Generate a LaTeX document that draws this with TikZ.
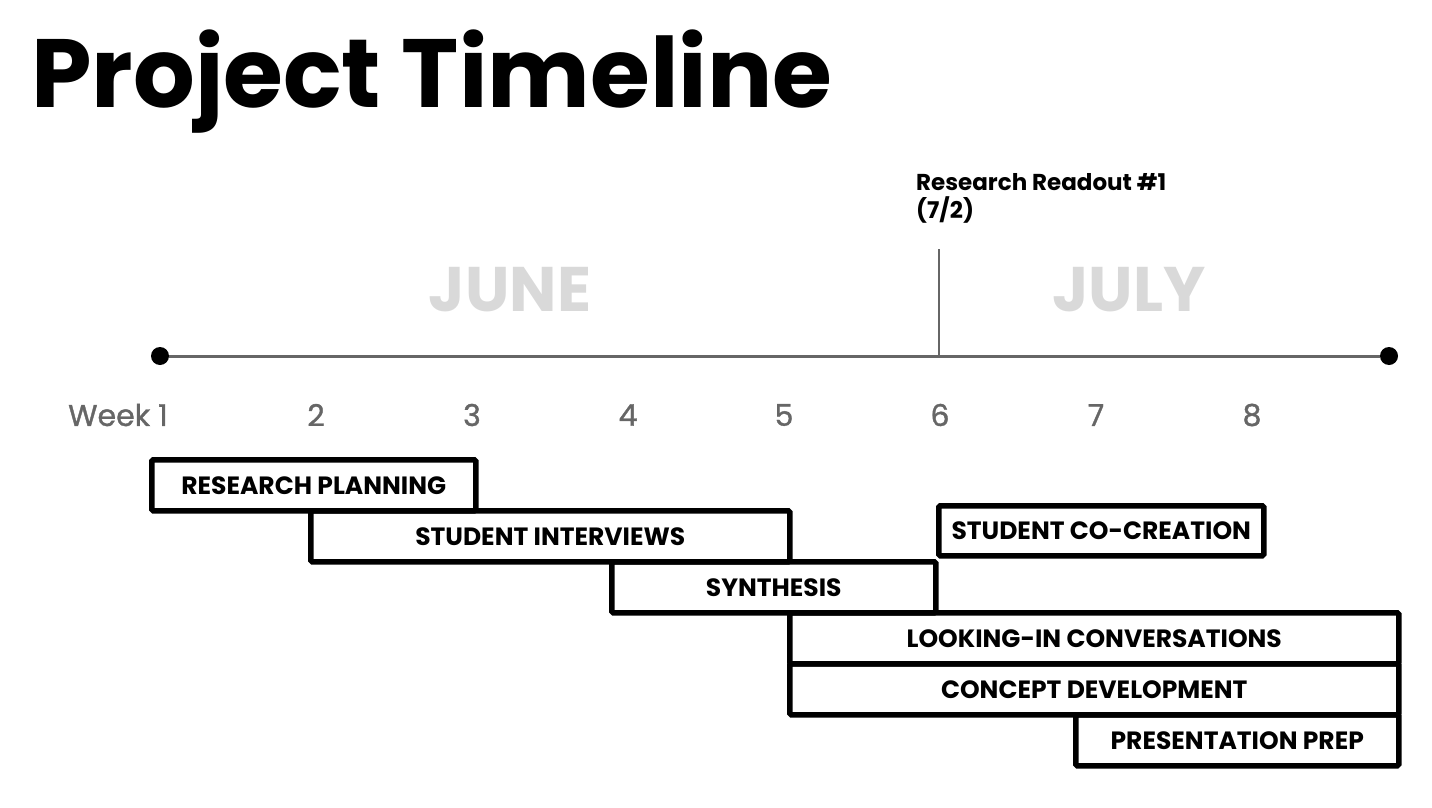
\documentclass[tikz,border=0pt]{standalone}
\usepackage{fontspec}
\setmainfont{Poppins}
\newfontfamily\weekfont{Poppins}[FakeBold=1.2]
\usepackage{xcolor}
\usetikzlibrary{positioning}

\definecolor{axisgray}{HTML}{666666}
\definecolor{monthgray}{HTML}{D9D9D9}

\begin{document}
\begin{tikzpicture}[x=1pt, y=-1pt, every node/.style={inner sep=0pt},
    task/.style={draw, line width=5.5pt, rounded corners=1.5pt, anchor=north west,
                 minimum height=51pt, font=\fontsize{25}{28}\selectfont\bfseries},
    week/.style={text=axisgray, font=\fontsize{30}{34}\selectfont\weekfont},
    month/.style={text=monthgray, font=\fontsize{63}{68}\selectfont\bfseries},
    dot/.style={circle, fill=black, minimum size=18pt}]
  \useasboundingbox (0,0) rectangle (1432,808);

  \node[anchor=base west, font=\fontsize{97}{106}\selectfont\bfseries] (title)
      at (31,107) {Project Timeline};

  % timeline
  \node[dot] (tstart) at (160,356) {};
  \node[dot] (tend) at (1389,356) {};
  \draw[axisgray, line width=3pt] (tstart) -- (tend);
  \coordinate (rtop) at (939,249);
  \coordinate (rbot) at (939,356);
  \draw[axisgray, line width=1.5pt] (rtop) -- (rbot);

  \node[anchor=north west, align=left, font=\fontsize{23}{28}\selectfont\bfseries] (readout)
      at (916,173) {Research Readout \#1\\(7/2)};

  \node[month] (june) at (510,290) {JUNE};
  \node[month] (july) at (1129,290) {JULY};

  \node[week, anchor=east] (w1) at (168,415) {Week 1};
  \foreach \w in {2,...,8}
    \node[week] (w\w) at ({160+156*(\w-1)},415) {\w};

  % tasks
  \node[task, minimum width=324pt] (plan) at (149,457) {RESEARCH PLANNING};
  \node[task, minimum width=479pt] (interv) at (308,508) {STUDENT INTERVIEWS};
  \node[task, minimum width=324pt] (synth) at (609,559) {SYNTHESIS};
  \node[task, minimum width=325pt, minimum height=50pt] (cocreate) at (936,503) {STUDENT CO-CREATION};
  \node[task, minimum width=609pt] (looking) at (787,610) {LOOKING-IN CONVERSATIONS};
  \node[task, minimum width=609pt] (concept) at (787,661) {CONCEPT DEVELOPMENT};
  \node[task, minimum width=323pt] (prep) at (1073,712) {PRESENTATION PREP};
\end{tikzpicture}
\end{document}
